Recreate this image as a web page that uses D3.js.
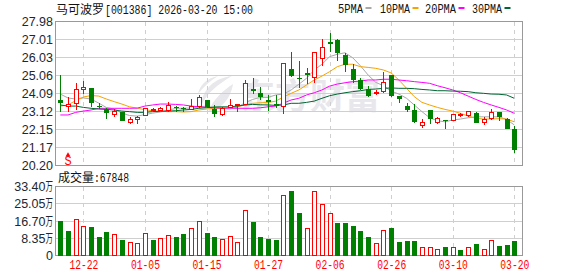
<!DOCTYPE html>
<html>
<head>
<meta charset="utf-8">
<script src="https://cdn.jsdelivr.net/npm/d3@7"></script>
<style>
html, body { margin: 0; padding: 0; background: #fff; }
svg { display: block; }
</style>
</head>
<body>
<svg id="kline" width="578" height="276"></svg>
<script>
const highs = [25.09,23.90,24.66,24.76,24.37,23.56,23.32,23.23,23.07,22.80,22.87,23.29,23.32,23.34,23.61,23.43,23.37,23.79,24.01,23.74,23.47,23.37,23.77,23.52,24.82,24.94,24.42,24.01,24.01,25.72,26.31,25.84,25.48,26.35,27.02,27.37,27.02,26.28,25.68,24.91,24.49,24.28,25.27,25.09,23.95,23.59,23.52,22.71,23.20,22.80,22.66,22.96,23.05,23.13,23.07,22.83,23.23,23.07,22.75,22.33];
const lows = [23.09,23.11,23.20,24.06,23.37,23.23,22.71,22.83,22.62,22.46,22.44,22.87,23.07,23.16,23.11,23.11,23.11,23.25,23.29,23.29,22.83,22.89,23.30,23.07,23.52,24.06,23.74,23.16,23.29,22.96,24.98,24.37,24.59,24.67,25.58,26.31,25.86,25.27,24.64,24.29,23.92,24.01,24.13,23.92,23.59,23.07,22.51,22.24,22.44,22.44,22.17,22.62,22.80,22.80,22.51,22.40,22.66,22.62,22.17,20.89];
const opens = [23.74,23.39,23.57,24.33,24.37,23.43,23.23,22.94,23.07,22.55,22.69,22.89,23.16,23.16,23.16,23.34,23.30,23.25,23.37,23.74,23.25,22.93,23.32,23.45,23.52,24.33,24.12,23.74,23.52,23.40,25.41,24.94,25.20,24.96,25.97,26.87,26.98,26.17,25.40,24.82,24.31,24.08,24.19,25.09,23.95,23.41,23.20,22.37,23.20,22.51,22.66,22.64,22.93,22.91,23.03,22.51,22.75,23.07,22.69,22.15];
const closes = [23.55,23.47,24.33,24.39,23.56,23.34,23.05,23.10,22.62,22.69,22.78,23.27,23.21,23.29,23.45,23.29,23.27,23.37,23.85,23.37,22.96,23.29,23.45,23.52,24.64,24.22,23.92,23.63,23.43,25.72,25.02,24.86,25.10,26.31,26.58,26.78,26.29,25.63,24.82,24.31,23.95,24.17,24.69,23.95,23.79,23.20,22.56,22.55,22.69,22.76,22.59,22.96,22.96,23.13,22.51,22.66,23.07,22.83,22.17,21.04];

const ma5 = [24.06,23.85,23.79,23.85,23.79,23.57,23.33,23.25,23.03,22.90,22.87,22.95,23.03,23.09,23.20,23.28,23.30,23.30,23.36,23.41,23.30,23.30,23.25,23.34,23.59,23.77,23.88,23.88,24.01,24.06,24.28,24.59,24.91,25.36,25.67,26.08,26.21,26.29,26.02,25.59,25.09,24.69,24.51,24.22,24.06,23.83,23.47,23.11,22.78,22.62,22.56,22.66,22.71,22.78,22.83,22.83,22.83,22.83,22.69,22.39];
const ma10 = [23.41,23.47,23.71,23.90,23.98,23.95,23.79,23.65,23.52,23.37,23.30,23.21,23.16,23.12,23.11,23.11,23.09,23.11,23.20,23.25,23.29,23.29,23.32,23.37,23.47,23.56,23.59,23.60,23.68,23.90,24.10,24.28,24.55,24.82,25.03,25.27,25.54,25.67,25.67,25.54,25.50,25.45,25.36,25.20,24.82,24.37,23.92,23.61,23.47,23.34,23.23,23.14,23.02,22.87,22.75,22.71,22.71,22.73,22.71,22.56];
const ma20 = [22.93,22.93,23.07,23.14,23.20,23.29,23.29,23.29,23.29,23.29,23.30,23.41,23.47,23.52,23.52,23.50,23.47,23.41,23.37,23.34,23.32,23.30,23.30,23.29,23.29,23.29,23.32,23.37,23.41,23.57,23.74,23.83,24.01,24.13,24.28,24.49,24.60,24.67,24.73,24.76,24.82,24.82,24.86,24.86,24.82,24.78,24.73,24.69,24.64,24.51,24.40,24.28,24.13,23.95,23.77,23.61,23.47,23.34,23.20,23.02];
const ma30 = [23.47,23.41,23.41,23.34,23.29,23.25,23.23,23.20,23.14,23.11,23.07,23.07,23.11,23.13,23.14,23.16,23.20,23.23,23.29,23.32,23.36,23.37,23.37,23.41,23.47,23.50,23.48,23.47,23.45,23.47,23.56,23.56,23.61,23.68,23.83,23.97,24.06,24.13,24.19,24.24,24.31,24.33,24.37,24.39,24.37,24.37,24.35,24.31,24.28,24.24,24.24,24.22,24.21,24.19,24.13,24.10,24.06,24.05,24.01,23.83];

// volume in units of 万, volUp: 1 = red outlined bar, 0 = green
const volumes = [16.6,11.8,17.4,14.0,13.7,8.9,11.3,10.2,7.4,6.3,5.8,10.7,7.4,8.2,9.7,8.9,10.3,13.1,16.5,10.8,8.9,7.7,9.2,6.3,21.8,16.1,8.9,7.9,7.4,29.1,31.2,20.5,13.1,31.0,24.7,20.3,15.7,15.7,14.2,11.8,8.9,5.8,12.1,13.2,6.5,6.9,6.9,3.9,3.9,2.9,4.0,3.9,2.6,3.9,5.5,2.9,7.3,4.5,5.0,6.9];
const volUp = [0,0,1,1,0,0,0,1,0,1,1,1,0,1,1,0,0,1,1,0,0,1,1,1,1,0,0,0,0,1,0,0,1,1,1,1,0,0,0,0,0,1,1,0,0,0,0,1,1,1,0,1,0,1,0,1,1,0,0,0];

const priceTicks = [27.98,27.01,26.03,25.06,24.09,23.12,22.15,21.17,20.20];
const volTicks = [33.40,25.05,16.70,8.35,0];
const dateIdx = [3,11,19,27,35,43,51,59];
const dateLabels = ["12-22","01-05","01-15","01-27","02-06","02-26","03-10","03-20"];
const signalIdx = 1;

const legendNames = ["5PMA","10PMA","20PMA","30PMA"];
const legendColors = ["#a9a9a9","#f5a300","#ff00ff","#006633"];
const maSeries = [ma5, ma10, ma20, ma30];

const svg = d3.select("#kline");
const LEFT = 56, RIGHT = 522, P_TOP = 21.5, P_BOT = 165.5, V_TOP = 186.5, V_BOT = 255.5;
const RED = "#ff0000", GREEN = "#008000", GRID = "#cfcfcf", BORDER = "#999";
const MONO = "'Liberation Mono','Noto Sans CJK SC',monospace";
const CJK = "'Noto Sans CJK SC',sans-serif";
const NUM = "'Liberation Sans',Arial,sans-serif";

const x = d3.scalePoint().domain(d3.range(60)).range([60.3, 514.3]);
const px = i => Math.round(x(i)) + 0.5;
const y = d3.scaleLinear().domain([20.20, 27.98]).range([P_BOT, P_TOP]);
const yVol = d3.scaleLinear().domain([0, 33.40]).range([V_BOT, V_TOP]);

// watermark sits under everything
const wm = svg.append("g").attr("fill", "#e7e7ec");
wm.append("path").attr("d", "M232 76 C214 78 202 90 201 106 C206 94 218 84 232 76 Z");
wm.append("path").attr("d", "M233 84 C224 90 214 98 208 112 C218 110 230 102 233 84 Z");
wm.append("path").attr("d", "M218 76 C208 78 200 84 198 94 C204 86 211 80 218 76 Z");
wm.append("text").attr("x", 240).attr("y", 109)
    .attr("font-family", CJK).attr("font-weight", 700).attr("font-size", 35)
    .text("东方财富");

function drawGrid(ticks, scale, top, bot) {
    const g = svg.append("g").attr("shape-rendering", "crispEdges");
    g.selectAll("line.h").data(ticks).join("line").attr("class", "h")
        .attr("x1", LEFT).attr("x2", RIGHT)
        .attr("y1", d => Math.floor(scale(d)) + 0.5).attr("y2", d => Math.floor(scale(d)) + 0.5)
        .attr("stroke", GRID);
    g.selectAll("line.v").data(dateIdx).join("line").attr("class", "v")
        .attr("x1", px).attr("x2", px).attr("y1", top).attr("y2", bot)
        .attr("stroke", GRID).attr("stroke-dasharray", "4,4");
    g.append("rect").attr("x", LEFT - 0.5).attr("y", top).attr("width", RIGHT - LEFT + 0.5).attr("height", bot - top)
        .attr("fill", "none").attr("stroke", BORDER);
}
drawGrid(priceTicks, y, P_TOP, P_BOT);
drawGrid(volTicks, yVol, V_TOP, V_BOT);

// moving averages go under the candles
const line = d3.line().x((d, i) => x(i)).y(d => y(d));
svg.append("g").selectAll("path").data(maSeries).join("path")
    .attr("d", line).attr("fill", "none")
    .attr("stroke", (d, i) => legendColors[i]).attr("stroke-width", 1);

const candles = svg.append("g").attr("shape-rendering", "crispEdges")
    .selectAll("g").data(d3.range(60)).join("g");
candles.append("line")
    .attr("x1", px).attr("x2", px)
    .attr("y1", i => y(highs[i])).attr("y2", i => y(lows[i]))
    .attr("stroke", i => closes[i] >= opens[i] ? RED : GREEN);
candles.append("rect")
    .attr("x", i => closes[i] >= opens[i] ? px(i) - 2 : px(i) - 2.5)
    .attr("width", i => closes[i] >= opens[i] ? 4 : 5)
    .attr("y", i => y(Math.max(opens[i], closes[i])))
    .attr("height", i => Math.max(1, Math.abs(y(opens[i]) - y(closes[i]))))
    .attr("fill", i => closes[i] >= opens[i] ? "#fff" : GREEN)
    .attr("stroke", i => closes[i] >= opens[i] ? RED : "none");

svg.append("g").attr("shape-rendering", "crispEdges")
    .selectAll("rect").data(volumes).join("rect")
    .attr("x", (d, i) => volUp[i] ? px(i) - 2 : px(i) - 2.5)
    .attr("width", (d, i) => volUp[i] ? 4 : 5)
    .attr("y", d => yVol(d))
    .attr("height", d => V_BOT - yVol(d))
    .attr("fill", (d, i) => volUp[i] ? "#fff" : GREEN)
    .attr("stroke", (d, i) => volUp[i] ? RED : "none");

// price axis
const priceAxis = svg.append("g").attr("transform", `translate(${LEFT - 3},0)`)
    .call(d3.axisLeft(y).tickValues(priceTicks).tickSize(0).tickPadding(0).tickFormat(d3.format(".2f")));
priceAxis.select(".domain").remove();
priceAxis.selectAll("text").attr("font-family", NUM).attr("font-size", 12.5).attr("fill", "#1c2733");

// volume axis, 万 is squeezed like in the original
const volAxis = svg.append("g").attr("transform", `translate(${LEFT - 3},0)`)
    .call(d3.axisLeft(yVol).tickValues(volTicks).tickSize(0).tickPadding(0)
        .tickFormat(d => d === 0 ? "0" : d3.format(".2f")(d)));
volAxis.select(".domain").remove();
volAxis.selectAll("text").attr("font-family", NUM).attr("font-size", 12.5).attr("fill", "#1c2733")
    .each(function (d) {
        if (d === 0) return;
        d3.select(this).append("tspan").attr("font-family", CJK).attr("font-size", 12)
            .attr("textLength", 7.5).attr("lengthAdjust", "spacingAndGlyphs").text("万");
    });

// date axis
const dateAxis = svg.append("g").attr("transform", `translate(0,${V_BOT})`)
    .call(d3.axisBottom(x).tickValues(dateIdx).tickSize(0).tickPadding(5).tickFormat(i => dateLabels[dateIdx.indexOf(i)]));
dateAxis.select(".domain").remove();
dateAxis.selectAll("text").attr("font-family", MONO).attr("font-size", 12).attr("fill", RED)
    .attr("textLength", 29).attr("lengthAdjust", "spacingAndGlyphs");

// title
const title = svg.append("text").attr("x", LEFT).attr("y", 14).attr("font-size", 12).attr("fill", "#111");
title.append("tspan").attr("font-family", CJK).text("马可波罗");
title.append("tspan").attr("font-family", MONO).attr("dx", 1)
    .attr("textLength", 148).attr("lengthAdjust", "spacingAndGlyphs")
    .text("[001386] 2026-03-20 15:00");

// legend
const legendX = [338, 380, 425, 472];
const legendW = [25, 30, 31, 30];
const legend = svg.append("g").selectAll("g").data(legendNames).join("g")
    .attr("transform", (d, i) => `translate(${legendX[i]},0)`);
legend.append("text").attr("y", 13).attr("font-family", MONO).attr("font-size", 12).attr("fill", "#111")
    .attr("textLength", (d, i) => legendW[i]).attr("lengthAdjust", "spacingAndGlyphs").text(d => d);
legend.append("rect").attr("x", (d, i) => legendW[i] + 2.5).attr("y", 7).attr("width", 6).attr("height", 2)
    .attr("fill", (d, i) => legendColors[i]);

// volume caption
const cap = svg.append("text").attr("x", 58).attr("y", 182).attr("font-size", 12).attr("fill", "#111");
cap.append("tspan").attr("font-family", CJK).text("成交量");
cap.append("tspan").attr("font-family", MONO).attr("textLength", 35).attr("lengthAdjust", "spacingAndGlyphs").text(":67848");

// buy/sell signal
const sig = svg.append("g").attr("fill", RED);
sig.append("path").attr("d", d3.symbol(d3.symbolTriangle, 10)).attr("transform", `translate(${x(signalIdx)},155)`);
sig.append("text").attr("x", x(signalIdx)).attr("y", 165).attr("text-anchor", "middle")
    .attr("font-family", MONO).attr("font-size", 12).text("S");
</script>
</body>
</html>
